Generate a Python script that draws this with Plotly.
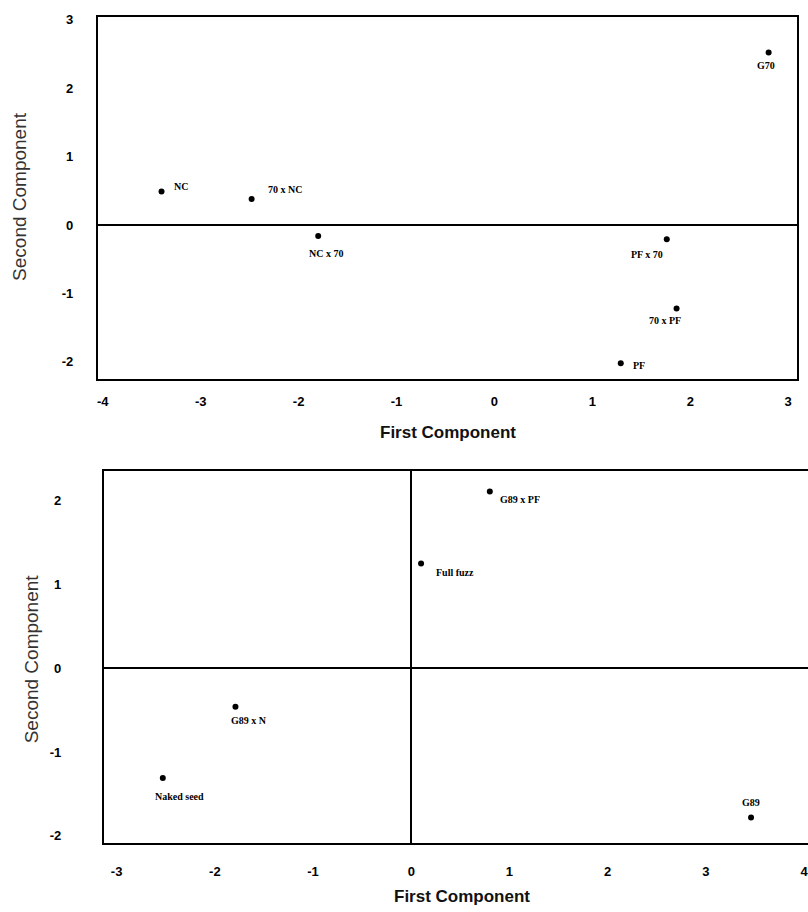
import plotly.graph_objects as go

# ---- data ----
top_labels = ["NC", "70 x NC", "NC x 70", "PF x 70", "70 x PF", "PF", "G70"]
top_x = [-3.40, -2.48, -1.80, 1.76, 1.86, 1.29, 2.80]
top_y = [0.49, 0.38, -0.16, -0.21, -1.22, -2.02, 2.52]

bot_labels = ["G89 x PF", "Full fuzz", "G89 x N", "Naked seed", "G89"]
bot_x = [0.80, 0.10, -1.79, -2.53, 3.46]
bot_y = [2.11, 1.25, -0.46, -1.31, -1.78]

top_xticks = [-4, -3, -2, -1, 0, 1, 2, 3]
top_yticks = [-2, -1, 0, 1, 2, 3]
bot_xticks = [-3, -2, -1, 0, 1, 2, 3, 4]
bot_yticks = [-2, -1, 0, 1, 2]

x_title = "First Component"
y_title = "Second Component"

# ---- label placement (style only) ----
top_offsets = {
    "NC": ("left", 10, 5),
    "70 x NC": ("left", 14, 9),
    "NC x 70": ("center", 8, -18),
    "PF x 70": ("center", -20, -15),
    "70 x PF": ("center", -12, -12),
    "PF": ("left", 10, -2),
    "G70": ("center", -3, -13),
}
bot_offsets = {
    "G89 x PF": ("left", 8, -8),
    "Full fuzz": ("left", 13, -9),
    "G89 x N": ("left", -6, -14),
    "Naked seed": ("left", -10, -18),
    "G89": ("center", 0, 15),
}

W, H = 808, 912
fig = go.Figure()

fig.add_trace(go.Scatter(x=top_x, y=top_y, mode="markers", xaxis="x", yaxis="y",
                         marker=dict(color="black", size=6), hoverinfo="text",
                         text=top_labels, showlegend=False))
fig.add_trace(go.Scatter(x=bot_x, y=bot_y, mode="markers", xaxis="x2", yaxis="y2",
                         marker=dict(color="black", size=6), hoverinfo="text",
                         text=bot_labels, showlegend=False))

label_font = dict(family="Liberation Serif, Times New Roman, serif", size=10, color="black", weight="bold")
ann = []
for lab, x, y in zip(top_labels, top_x, top_y):
    anc, dx, dy = top_offsets[lab]
    ann.append(dict(x=x, y=y, xref="x", yref="y", text=lab, showarrow=False,
                    xanchor=anc, yanchor="middle", xshift=dx, yshift=dy, font=label_font))
for lab, x, y in zip(bot_labels, bot_x, bot_y):
    anc, dx, dy = bot_offsets[lab]
    ann.append(dict(x=x, y=y, xref="x2", yref="y2", text=lab, showarrow=False,
                    xanchor=anc, yanchor="middle", xshift=dx, yshift=dy, font=label_font))

def px(xp):
    return xp / W

def py(yp):
    return 1 - yp / H

title_font_x = dict(family="Liberation Sans, Arial, sans-serif", size=17, color="#111", weight="bold")
title_font_y = dict(family="Liberation Sans, Arial, sans-serif", size=19, color="#333")
ann += [
    dict(x=px(448), y=py(430), xref="paper", yref="paper", text=x_title, showarrow=False,
         xanchor="center", yanchor="middle", font=title_font_x),
    dict(x=px(462), y=py(896), xref="paper", yref="paper", text=x_title, showarrow=False,
         xanchor="center", yanchor="middle", font=title_font_x),
    dict(x=px(19), y=py(192), xref="paper", yref="paper", text=y_title, showarrow=False,
         textangle=-90, xanchor="center", yanchor="middle", font=title_font_y),
    dict(x=px(30), y=py(657), xref="paper", yref="paper", text=y_title, showarrow=False,
         textangle=-90, xanchor="center", yanchor="middle", font=title_font_y),
]

tick_font = dict(family="Liberation Sans, Arial, sans-serif", size=13, color="black", weight="bold")

def tt(vals):
    return [str(v) for v in vals]

common = dict(showgrid=False, showline=True, linecolor="black", linewidth=2,
              ticks="", tickfont=tick_font, zerolinecolor="black", zerolinewidth=2,
              ticklabeloverflow="allow")

fig.update_layout(
    width=W, height=H, margin=dict(l=0, r=0, t=0, b=0),
    paper_bgcolor="white", plot_bgcolor="white",
    annotations=ann,
    xaxis=dict(domain=[px(97), px(797)], range=[-4.05, 3.09], anchor="y",
               tickvals=top_xticks, ticktext=tt(top_xticks), mirror=True,
               zeroline=False, ticklabelstandoff=9, **common),
    yaxis=dict(domain=[py(376), py(12)], range=[-2.25, 3.04], anchor="x",
               tickvals=top_yticks, ticktext=tt(top_yticks), mirror=True,
               zeroline=True, ticklabelstandoff=20, **common),
    xaxis2=dict(domain=[px(103), 1.0], range=[-3.13, 4.04], anchor="y2",
                tickvals=bot_xticks, ticktext=tt(bot_xticks), mirror=True,
                zeroline=True, ticklabelstandoff=15, **common),
    yaxis2=dict(domain=[py(843), py(469)], range=[-2.09, 2.35], anchor="x2",
                tickvals=bot_yticks, ticktext=tt(bot_yticks), mirror=False,
                zeroline=True, ticklabelstandoff=38, **common),
)

fig.write_html("out.html", config={"displayModeBar": False},
               post_script="document.body.style.margin='0px';document.body.style.overflow='hidden';")
